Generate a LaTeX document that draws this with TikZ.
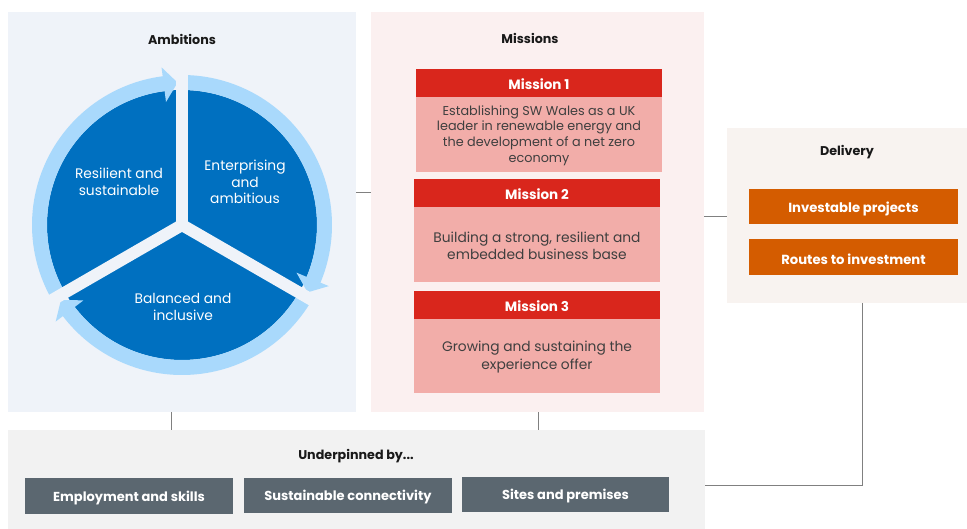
\documentclass[tikz,border=0pt]{standalone}
\usepackage{fontspec}
\setmainfont{Poppins}
\definecolor{ambbg}{HTML}{EFF3F9}
\definecolor{misbg}{HTML}{FBF0F0}
\definecolor{delbg}{HTML}{F8F3F0}
\definecolor{undbg}{HTML}{F2F2F2}
\definecolor{dblue}{HTML}{0070C0}
\definecolor{lblue}{HTML}{A9D9FC}
\definecolor{mred}{HTML}{D9261C}
\definecolor{mbody}{HTML}{F2ADA9}
\definecolor{dorange}{HTML}{D45C00}
\definecolor{slate}{HTML}{5B6770}
\definecolor{connc}{HTML}{808080}
\definecolor{bodytext}{HTML}{3F3F3F}
\begin{document}
\begin{tikzpicture}[x=1pt,y=-1pt,
  panel/.style={draw=none, inner sep=0pt, outer sep=0pt, anchor=north west},
  title/.style={font=\fontsize{12.7}{15}\selectfont\bfseries, text=black!90},
  mhead/.style={panel, fill=mred},
  mheadtext/.style={text=white, font=\fontsize{13.5}{16}\selectfont\bfseries, yshift=-1pt},
  mbodybox/.style={panel, fill=mbody},
  mbodytext/.style={text=bodytext, align=center, font=\fontsize{12.8}{15.7}\selectfont, yshift=-1pt},
  mbodytextb/.style={text=bodytext, align=center, font=\fontsize{13.8}{17.3}\selectfont, yshift=-1pt},
  obox/.style={panel, fill=dorange},
  oboxtext/.style={text=white, font=\fontsize{13.2}{16}\selectfont\bfseries, yshift=-2pt},
  sbox/.style={panel, fill=slate},
  sboxtext/.style={text=white, font=\fontsize{13}{16}\selectfont\bfseries, yshift=-2pt},
  ctext/.style={text=white, align=center, font=\fontsize{13.8}{16.7}\selectfont},
  conn/.style={draw=connc, line width=0.8pt},
  gapline/.style={draw=ambbg, line width=12pt},
  ring/.style={fill=lblue}
]
\useasboundingbox (0,0) rectangle (967,529);
% panels
\node[panel, fill=ambbg, minimum width=348pt, minimum height=400pt] (amb) at (8,12) {};
\node[panel, fill=misbg, minimum width=333pt, minimum height=400pt] (mis) at (371,12) {};
\node[panel, fill=delbg, minimum width=240pt, minimum height=175pt] (del) at (727,128) {};
\node[panel, fill=undbg, minimum width=697pt, minimum height=99pt] (und) at (8,430) {};
% titles
\node[title] (tamb) at (182,39) {Ambitions};
\node[title] (tmis) at (530,38) {Missions};
\node[title] (tdel) at (847,152) {Delivery};
\node[title] (tund) at (356,456) {Underpinned by...};
% circle
\begin{scope}[shift={(182,225)}, yscale=-1]
  \fill[dblue] (0,0) circle[radius=135];
  \fill[ring] (90:150) arc[start angle=90, end angle=-22.6, radius=150] -- (-22.6:159) -- (-28.2:142.5) -- (-22.6:124) -- (-22.6:135) arc[start angle=-22.6, end angle=90, radius=135] -- cycle;
  \fill[ring] (-30:150) arc[start angle=-30, end angle=-142.6, radius=150] -- (-142.6:159) -- (-148.2:142.5) -- (-142.6:124) -- (-142.6:135) arc[start angle=-142.6, end angle=-30, radius=135] -- cycle;
  \fill[ring] (210:150) arc[start angle=210, end angle=97.4, radius=150] -- (97.4:159) -- (91.8:142.5) -- (97.4:124) -- (97.4:135) arc[start angle=97.4, end angle=210, radius=135] -- cycle;
  \draw[gapline] (0,0) -- (90:166);
  \draw[gapline] (0,0) -- (210:166);
  \draw[gapline] (0,0) -- (330:166);
\end{scope}
\node[ctext] (c1) at (119,182) {Resilient and\\sustainable};
\node[ctext] (c2) at (245,182) {Enterprising\\and\\ambitious};
\node[ctext] (c3) at (183,307) {Balanced and\\inclusive};
% missions
\node[mhead, minimum width=246pt, minimum height=28pt] (m1h) at (416,69) {};
\node[mheadtext] (m1t) at (m1h.center) {Mission 1};
\node[mbodybox, minimum width=246pt, minimum height=75pt] (m1b) at (416,97) {};
\node[mbodytext] (m1x) at (m1b.center) {Establishing SW Wales as a UK\\leader in renewable energy and\\the development of a net zero\\economy};
\node[mhead, minimum width=246pt, minimum height=28pt] (m2h) at (414,179) {};
\node[mheadtext] (m2t) at (m2h.center) {Mission 2};
\node[mbodybox, minimum width=246pt, minimum height=75pt] (m2b) at (414,207) {};
\node[mbodytextb] (m2x) at (m2b.center) {Building a strong, resilient and\\embedded business base};
\node[mhead, minimum width=246pt, minimum height=28pt] (m3h) at (414,291) {};
\node[mheadtext] (m3t) at (m3h.center) {Mission 3};
\node[mbodybox, minimum width=246pt, minimum height=74pt] (m3b) at (414,319) {};
\node[mbodytextb] (m3x) at (m3b.center) {Growing and sustaining the\\experience offer};
% delivery
\node[obox, minimum width=209pt, minimum height=35pt] (d1) at (749,189) {};
\node[oboxtext] (d1t) at (d1.center) {Investable projects};
\node[obox, minimum width=209pt, minimum height=36pt] (d2) at (749,239) {};
\node[oboxtext] (d2t) at (d2.center) {Routes to investment};
% underpinned
\node[sbox, minimum width=208pt, minimum height=36pt] (u1) at (25,478) {};
\node[sboxtext] (u1t) at (u1.center) {Employment and skills};
\node[sbox, minimum width=208pt, minimum height=35pt] (u2) at (244,478) {};
\node[sboxtext] (u2t) at (u2.center) {Sustainable connectivity};
\node[sbox, minimum width=207pt, minimum height=35pt] (u3) at (462,477) {};
\node[sboxtext] (u3t) at (u3.center) {Sites and premises};
% connectors
\coordinate (j1) at (0,192.7);
\coordinate (j2) at (0,216);
\coordinate (j3) at (171,0);
\coordinate (j4) at (538,0);
\coordinate (j5) at (862,485);
\draw[conn] (amb.east |- j1) -- (mis.west |- j1);
\draw[conn] (mis.east |- j2) -- (del.west |- j2);
\draw[conn] (amb.south -| j3) -- (und.north -| j3);
\draw[conn] (mis.south -| j4) -- (und.north -| j4);
\draw[conn] (del.south -| j5) -- (j5) -- (und.east |- j5);
\end{tikzpicture}
\end{document}
